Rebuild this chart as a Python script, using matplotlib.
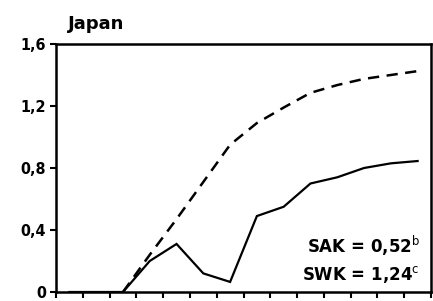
import matplotlib
matplotlib.use("Agg")
import matplotlib.pyplot as plt
import numpy as np

x_pos = [0.5, 1.5, 2.5, 3.5, 4.5, 5.5, 6.5, 7.5, 8.5, 9.5, 10.5, 11.5, 12.5, 13.5]
sak = [0, 0, 0, 0.20, 0.31, 0.12, 0.065, 0.49, 0.55, 0.70, 0.74, 0.80, 0.83, 0.845]
swk_x = [2.5, 3.5, 4.5, 5.5, 6.5, 7.5, 8.5, 9.5, 10.5, 11.5, 12.5, 13.5]
swk = [0, 0.24, 0.47, 0.71, 0.95, 1.09, 1.19, 1.285, 1.335, 1.375, 1.40, 1.425]
y_ticks = [0, 0.4, 0.8, 1.2, 1.6]
y_labels = ["0", "0,4", "0,8", "1,2", "1,6"]
title = "Japan"
notes = ["SAK = 0,52$^{\\mathrm{b}}$", "SWK = 1,24$^{\\mathrm{c}}$"]

plt.rcParams["mathtext.default"] = "regular"
fig = plt.figure(figsize=(4.33, 3.01), dpi=100)
ax = fig.add_axes([56/433, 1 - 292/301, 375/433, 248/301])
ax.plot(x_pos, sak, color="black", lw=1.6, solid_joinstyle="miter")
ax.plot(swk_x, swk, color="black", lw=1.8, dashes=(4.5, 3))
ax.set_xlim(0, 14)
ax.set_ylim(0, 1.6)
ax.set_xticks(np.arange(0, 15))
ax.set_xticklabels([])
ax.set_yticks(y_ticks)
ax.set_yticklabels(y_labels, fontsize=11.5, fontweight="bold", fontstretch="condensed")
ax.tick_params(axis="both", direction="out", length=4, width=1.5, colors="black")
ax.tick_params(axis="y", pad=3)
for s in ax.spines.values():
    s.set_linewidth(1.8)
ax.text(0.032, 1.08, title, transform=ax.transAxes, fontsize=13, fontweight="bold",
        ha="left", va="center")
ax.text(0.97, 0.185, notes[0], transform=ax.transAxes, fontsize=12, fontweight="bold",
        ha="right", va="center")
ax.text(0.97, 0.07, notes[1], transform=ax.transAxes, fontsize=12, fontweight="bold",
        ha="right", va="center")
fig.savefig("out.png", dpi=100)
